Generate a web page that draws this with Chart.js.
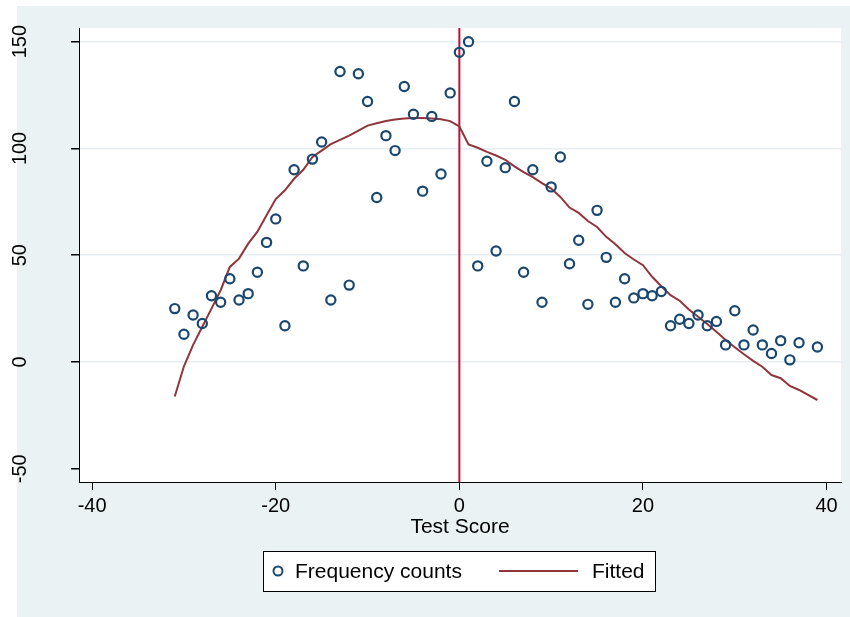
<!DOCTYPE html>
<html>
<head>
<meta charset="utf-8">
<script src="https://cdn.jsdelivr.net/npm/chart.js@4"></script>
<style>
  body { margin: 0; background: #ffffff; }
  #wrap { width: 850px; height: 617px; position: relative; }
</style>
</head>
<body>
<div id="wrap"><canvas id="myChart"></canvas></div>
<script>
// test score bins and the counts per bin
var scoreX = [-31, -30, -29, -28, -27, -26, -25, -24, -23, -22, -21, -20, -19, -18, -17, -16, -15, -14, -13, -12, -11, -10, -9, -8, -7, -6, -5, -4, -3, -2, -1,
  0, 1, 2, 3, 4, 5, 6, 7, 8, 9, 10, 11, 12, 13, 14, 15, 16, 17, 18, 19, 20, 21, 22, 23, 24, 25, 26, 27, 28, 29, 30, 31, 32, 33, 34, 35, 36, 37, 39]
var freqCounts = [25, 13, 22, 18, 31, 28, 39, 29, 32, 42, 56, 67, 17, 90, 45, 95, 103, 29, 136, 36, 135, 122, 77, 106, 99, 129, 116, 80, 115, 88, 126,
  145, 150, 45, 94, 52, 91, 122, 42, 90, 28, 82, 96, 46, 57, 27, 71, 49, 28, 39, 30, 32, 31, 33, 17, 20, 18, 22, 17, 19, 8, 24, 8, 15, 8, 4, 10, 1, 9, 7]
var fittedVals = [-16.2, -2, 8, 16.5, 25, 33.6, 44.5, 48.4, 55.4, 61, 68.7, 76.3, 80.4, 85.8, 90, 96, 99, 102, 104, 106, 108.4, 110.7, 111.8, 112.8, 113.5, 114, 114.2, 114.2, 114, 113.7, 112.8,
  110.3, 101.9, 100.3, 98.4, 96.7, 94.7, 91.6, 88.9, 86.6, 83.8, 81.2, 77.3, 72.3, 69.8, 66, 63.2, 58.6, 55.1, 51, 48, 45.3, 39.9, 35.5, 31.3, 28.7, 24.6, 21.2, 17.8, 14.2, 10.3, 6.9, 3.6, 0.5, -2.2, -6.1, -7.6, -11.2, -13.1, -17.8]
var xTicks = [-40, -20, 0, 20, 40]
var yTicks = [-50, 0, 50, 100, 150]
var cutoff = 0
var xTitle = "Test Score"
var legendLabels = ["Frequency counts", "Fitted"]

var navy = "#1a476f"
var maroon = "#90353b"
var bgColor = "#eaf2f3"
var fontFam = "'Liberation Sans', Arial, sans-serif"

Chart.defaults.font.family = fontFam
Chart.defaults.color = "#000000"

function toPoints(xs, ys) {
  var pts = []
  for (var i = 0; i < xs.length; i++) {
    pts.push({x: xs[i], y: ys[i]})
  }
  return pts
}

// grey backdrop with white plot region
var backdrop = {
  id: "backdrop",
  beforeDraw: function(chart) {
    var ctx = chart.ctx
    var a = chart.chartArea
    ctx.save()
    ctx.fillStyle = "#ffffff"
    ctx.fillRect(0, 0, chart.width, chart.height)
    ctx.fillStyle = bgColor
    ctx.fillRect(17, 6, chart.width - 17, chart.height - 6)
    ctx.fillStyle = "#ffffff"
    ctx.fillRect(a.left, a.top, a.right - a.left, a.bottom - a.top)
    ctx.restore()
  }
}

// vertical line at the cutoff
var cutLine = {
  id: "cutLine",
  beforeDatasetsDraw: function(chart) {
    var ctx = chart.ctx
    var a = chart.chartArea
    var px = chart.scales.x.getPixelForValue(cutoff)
    ctx.save()
    ctx.strokeStyle = "#c20e35"
    ctx.lineWidth = 2
    ctx.beginPath()
    ctx.moveTo(px, a.top)
    ctx.lineTo(px, a.bottom)
    ctx.stroke()
    ctx.restore()
  }
}

// rotated y tick labels, like stata
var yLabels = {
  id: "yLabels",
  afterDraw: function(chart) {
    var ctx = chart.ctx
    var ys = chart.scales.y
    ctx.save()
    ctx.font = "20px " + fontFam
    ctx.fillStyle = "#000000"
    ctx.textAlign = "center"
    ctx.textBaseline = "middle"
    yTicks.forEach(function(v) {
      var py = ys.getPixelForValue(v)
      ctx.save()
      ctx.translate(20, py)
      ctx.rotate(-Math.PI / 2)
      ctx.fillText(String(v), 0, 0)
      ctx.restore()
    })
    ctx.restore()
  }
}

// boxed legend under the axis title
var boxLegend = {
  id: "boxLegend",
  afterDraw: function(chart) {
    var ctx = chart.ctx
    ctx.save()
    ctx.fillStyle = "#ffffff"
    ctx.fillRect(263.5, 551.5, 392, 40)
    ctx.strokeStyle = "#000000"
    ctx.lineWidth = 1
    ctx.strokeRect(263.5, 551.5, 392, 40)

    ctx.strokeStyle = navy
    ctx.lineWidth = 2
    ctx.beginPath()
    ctx.arc(278, 571, 4.5, 0, Math.PI * 2)
    ctx.stroke()

    ctx.strokeStyle = maroon
    ctx.beginPath()
    ctx.moveTo(499, 571)
    ctx.lineTo(578, 571)
    ctx.stroke()

    ctx.fillStyle = "#000000"
    ctx.font = "21px " + fontFam
    ctx.textBaseline = "middle"
    ctx.textAlign = "left"
    ctx.fillText(legendLabels[0], 295, 572)
    ctx.fillText(legendLabels[1], 592, 572)
    ctx.restore()
  }
}

var ctx = document.getElementById("myChart").getContext("2d")
var chart = new Chart(ctx, {
  type: "scatter",
  data: {
    datasets: [{
      label: legendLabels[0],
      data: toPoints(scoreX, freqCounts),
      showLine: false,
      pointStyle: "circle",
      pointRadius: 4.6,
      pointBorderWidth: 2.2,
      borderColor: navy,
      backgroundColor: "rgba(0,0,0,0)"
    }, {
      label: legendLabels[1],
      data: toPoints(scoreX, fittedVals),
      showLine: true,
      pointRadius: 0,
      borderWidth: 2,
      borderColor: maroon,
      backgroundColor: maroon,
      tension: 0
    }]
  },
  options: {
    responsive: true,
    maintainAspectRatio: false,
    animation: false,
    events: [],
    layout: {
      padding: {left: 17, top: 28, right: 9, bottom: 77}
    },
    plugins: {
      legend: {display: false},
      tooltip: {enabled: false}
    },
    scales: {
      x: {
        type: "linear",
        min: -41.43,
        max: 41.57,
        afterBuildTicks: function(s) {
          s.ticks = xTicks.map(function(v) { return {value: v} })
        },
        afterFit: function(s) { s.height = 58 },
        grid: {drawOnChartArea: false, drawTicks: true, tickLength: 8, tickColor: "#000000"},
        border: {display: true, color: "#000000", width: 1},
        ticks: {padding: 4, font: {size: 20}, maxRotation: 0},
        title: {display: true, text: xTitle, font: {size: 21}, padding: 0}
      },
      y: {
        type: "linear",
        min: -56.2,
        max: 156.4,
        afterBuildTicks: function(s) {
          s.ticks = yTicks.map(function(v) { return {value: v} })
        },
        afterFit: function(s) { s.width = 62 },
        grid: {
          drawTicks: true,
          tickLength: 8,
          tickColor: "#000000",
          lineWidth: 1.5,
          color: function(c) {
            if (c.tick && c.tick.value === -50) return "rgba(0,0,0,0)"
            return "#e6eef2"
          }
        },
        border: {display: true, color: "#000000", width: 1},
        ticks: {display: false}
      }
    }
  },
  plugins: [backdrop, cutLine, yLabels, boxLegend]
})
</script>
</body>
</html>
